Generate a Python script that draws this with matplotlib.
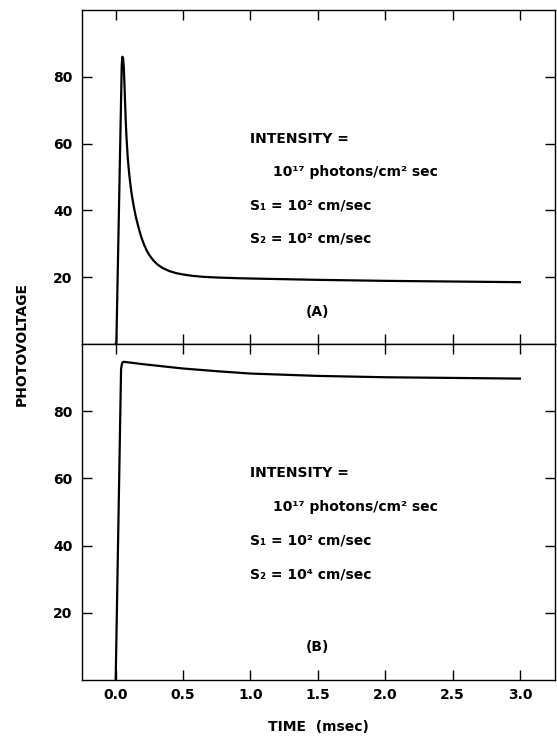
import numpy as np
import matplotlib.pyplot as plt

# curve (A): S1 = S2 = 1e2 cm/sec
t_a = [0.0, 0.005, 0.045, 0.05, 0.055, 0.06, 0.065, 0.07, 0.075, 0.08,
       0.09, 0.1, 0.11, 0.12, 0.135, 0.15, 0.17, 0.19, 0.21, 0.23, 0.25,
       0.28, 0.31, 0.35, 0.4, 0.45, 0.5, 0.57, 0.65, 0.75, 0.9, 1.0, 1.25,
       1.5, 1.75, 2.0, 2.5, 3.0]
v_a = [0.0, 0.0, 83.5, 86.0, 85.5, 83.0, 78.0, 72.0, 66.5, 62.0,
       55.5, 51.0, 47.5, 44.5, 41.0, 38.0, 34.8, 32.0, 29.8, 28.0, 26.6,
       25.0, 23.8, 22.7, 21.8, 21.2, 20.8, 20.4, 20.1, 19.9, 19.7, 19.6, 19.4,
       19.2, 19.05, 18.9, 18.7, 18.5]

# curve (B): S1 = 1e2, S2 = 1e4 cm/sec
t_b = [0.0, 0.04, 0.045, 0.05, 0.06, 0.2, 0.5, 0.75, 1.0, 1.5, 2.0, 2.5, 3.0]
v_b = [0.0, 92.5, 93.8, 94.5, 94.7, 94.0, 92.7, 91.9, 91.2, 90.5, 90.1, 89.9, 89.7]

xticks = [0.0, 0.5, 1.0, 1.5, 2.0, 2.5, 3.0]
yticks = [20, 40, 60, 80]

labels_a = ["INTENSITY =", "10\u00b9\u2077 photons/cm\u00b2 sec",
            "S\u2081 = 10\u00b2 cm/sec", "S\u2082 = 10\u00b2 cm/sec", "(A)"]
labels_b = ["INTENSITY =", "10\u00b9\u2077 photons/cm\u00b2 sec",
            "S\u2081 = 10\u00b2 cm/sec", "S\u2082 = 10\u2074 cm/sec", "(B)"]

plt.rcParams['font.family'] = ['DejaVu Sans']
plt.rcParams['font.weight'] = 'bold'
plt.rcParams['axes.labelweight'] = 'bold'

fig = plt.figure(figsize=(5.57, 7.38), dpi=100)
ax1 = fig.add_axes([0.1472, 0.5339, 0.8492, 0.4526])
ax2 = fig.add_axes([0.1472, 0.0786, 0.8492, 0.4553])

for ax, t, v, labels in [(ax1, t_a, v_a, labels_a), (ax2, t_b, v_b, labels_b)]:
    ax.plot(t, v, color='black', lw=1.6, solid_joinstyle='round')
    ax.set_xlim(-0.25, 3.26)
    ax.set_ylim(0, 100)
    ax.set_xticks(xticks)
    ax.set_yticks(yticks)
    ax.tick_params(direction='in', length=7, width=1, top=True, right=True,
                   labelsize=10, pad=7)
    for s in ax.spines.values():
        s.set_linewidth(1)
    ax.text(1.0, 61.5, labels[0], fontsize=10, va='center')
    ax.text(1.165, 51.5, labels[1], fontsize=10, va='center')
    ax.text(1.0, 41.5, labels[2], fontsize=10, va='center')
    ax.text(1.0, 31.5, labels[3], fontsize=10, va='center')
    ax.text(1.5, 9.7, labels[4], fontsize=10, va='center', ha='center')

ax1.tick_params(labelbottom=False)
ax2.set_xticklabels([f"{x:.1f}" for x in xticks])
ax2.tick_params(axis='x', pad=6)

fig.text(0.039, 0.534, "PHOTOVOLTAGE", rotation=90, fontsize=10,
         fontweight='bold', va='center', ha='center')
ax2.set_xlabel("TIME  (msec)", fontsize=10, fontweight='bold', labelpad=13)

plt.savefig("out.png", dpi=100)
